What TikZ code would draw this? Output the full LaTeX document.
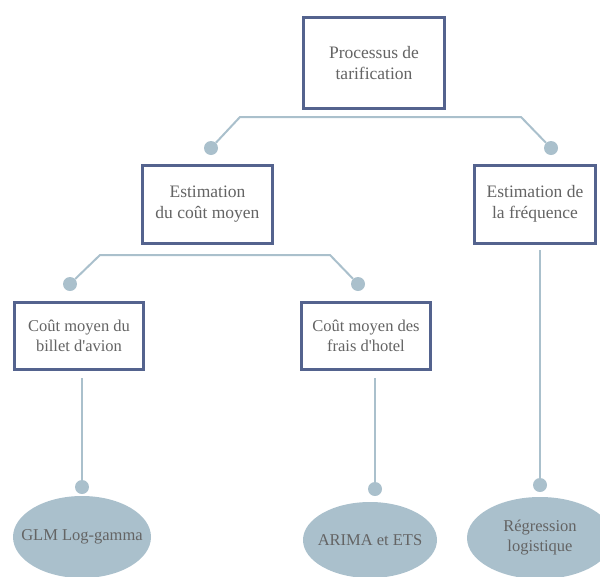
\documentclass[tikz,border=0pt]{standalone}
\usepackage{fontspec}
\setmainfont{Liberation Serif}
\usetikzlibrary{shapes.geometric}
\definecolor{boxblue}{RGB}{84, 99, 142}
\definecolor{linegrey}{RGB}{170, 192, 204}
\definecolor{textgrey}{RGB}{100, 100, 100}

\begin{document}
\begin{tikzpicture}[x=1pt, y=-1pt,
    every node/.style={font=\fontsize{16.5}{20}\selectfont, text=textgrey, align=center},
    box/.style={draw=boxblue, line width=3pt, fill=white, inner sep=0pt},
    big/.style={font=\fontsize{17.5}{21}\selectfont},
    dot/.style={circle, fill=linegrey, inner sep=0pt, minimum size=14pt},
    leaf/.style={ellipse, fill=linegrey, inner sep=0pt},
    link/.style={draw=linegrey, line width=2pt}]
                    \useasboundingbox (0,0) rectangle (600,576);
                    % boxes
                    \node[box, big, minimum width=141pt, minimum height=91pt] (P) at (374,63) {Processus de\\ tarification};
                    \node[box, big, minimum width=130pt, minimum height=78pt] (C) at (207.5,204) {Estimation\\ du coût moyen};
                    \node[box, big, minimum width=121pt, minimum height=78pt] (F) at (535,204) {Estimation de\\ la fréquence};
                    \node[box, minimum width=129pt, minimum height=67pt] (B) at (79,336) {Coût moyen du\\ billet d\textquotesingle avion};
                    \node[box, minimum width=129pt, minimum height=67pt] (H) at (366,336) {Coût moyen des\\ frais d\textquotesingle hotel};
                    % dots
                    \node[dot] (dC) at (211,148) {};
                    \node[dot] (dF) at (551,148) {};
                    \node[dot] (dB) at (70,284) {};
                    \node[dot] (dH) at (358,284) {};
                    \node[dot] (dG) at (82,487) {};
                    \node[dot] (dA) at (375,489) {};
                    \node[dot] (dR) at (540,485) {};
                    % leaves
                    \node[leaf, minimum width=138pt, minimum height=82pt, label={center:GLM Log-gamma}] (G) at (82,537) {};
                    \node[leaf, minimum width=134pt, minimum height=76pt, label={center:ARIMA et ETS}] (A) at (370,540) {};
                    \node[leaf, minimum width=146pt, minimum height=82pt, label={center:{Régression\\ logistique}}] (R) at (540,538) {};
                    % connectors
                    \coordinate (j1) at (240,117);
                    \coordinate (j2) at (521,117);
                    \coordinate (j3) at (100,255);
                    \coordinate (j4) at (330,255);
                    \coordinate (sB) at (82,378);
                    \coordinate (sH) at (375,378);
                    \coordinate (sF) at (540,250);
                    \draw[link] (dC) -- (j1) -- (j2) -- (dF);
                    \draw[link] (dB) -- (j3) -- (j4) -- (dH);
                    \draw[link] (sB) -- (dG);
                    \draw[link] (sH) -- (dA);
                    \draw[link] (sF) -- (dR);
                \end{tikzpicture}
\end{document}
